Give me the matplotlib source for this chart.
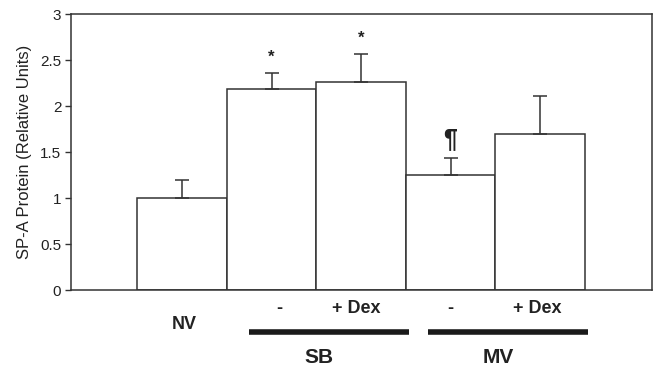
import numpy as np
import matplotlib.pyplot as plt

# bar values
groups = ['NV', 'SB', 'SB+Dex', 'MV', 'MV+Dex']
means = [1.0, 2.18, 2.265, 1.245, 1.70]
errs = [0.20, 0.18, 0.295, 0.185, 0.41]
marks = ['', '*', '*', '\u00b6', '']
sub_labels = ['NV', '-', '+ Dex', '-', '+ Dex']
ylabel = 'SP-A Protein (Relative Units)'
yticks = [0, 0.5, 1, 1.5, 2, 2.5, 3]
ytick_labels = ['0', '0.5', '1', '1.5', '2', '2.5', '3']

plt.rcParams['font.family'] = ['Liberation Sans', 'DejaVu Sans']

fig = plt.figure(figsize=(6.58, 3.71), dpi=100)
ax = fig.add_axes([71 / 658, 1 - 290 / 371, (652 - 71) / 658, (290 - 14) / 371])

x = np.arange(len(means))
edge = '#333333'
ax.bar(x, means, width=1.0, color='white', edgecolor=edge, linewidth=1.1, zorder=2)
ax.errorbar(x, means, yerr=[np.zeros(len(errs)), errs], fmt='none',
            ecolor=edge, elinewidth=1.1, capsize=5, capthick=1.1, zorder=3)

for xi, m, e, s in zip(x, means, errs, marks):
    if s == '*':
        ax.text(xi, m + e + 0.09, s, ha='center', va='bottom', fontsize=12,
                fontweight='bold', color='#222222')
    elif s:
        ax.text(xi, m + e + 0.08, s, ha='center', va='bottom', fontsize=18,
                fontweight='bold', color='#222222')

ax.set_xlim(-1.24, 5.25)
ax.set_ylim(0, 3)
ax.set_yticks(yticks)
ax.set_yticklabels(ytick_labels, fontsize=11, color='#222222')
ax.set_xticks([])
ax.tick_params(axis='y', direction='out', length=4, width=1, color=edge, pad=3)
ax.set_ylabel(ylabel, fontsize=12, color='#222222', labelpad=6)
for sp in ax.spines.values():
    sp.set_color(edge)
    sp.set_linewidth(1.1)

tr = ax.get_xaxis_transform()
# condition labels under the bars
ax.text(x[0] + 0.03, -0.125, sub_labels[0], transform=tr, ha='center', va='center',
        fontsize=13, fontweight='bold', color='#222222')
offs = [0, 0.09, -0.05, 0.0, -0.03]
for i in range(1, 5):
    ax.text(x[i] + offs[i], -0.068, sub_labels[i], transform=tr, ha='center', va='center',
            fontsize=13, fontweight='bold', color='#222222')

# group bars and names
for a, b, name in [(1, 2, 'SB'), (3, 4, 'MV')]:
    ax.plot([x[a] - 0.25, x[b] + 0.54], [-0.152, -0.152], transform=tr, color='#1a1a1a',
            linewidth=4, solid_capstyle='butt', clip_on=False)
    ax.text((x[a] + x[b]) / 2 + 0.03, -0.245, name, transform=tr, ha='center', va='center',
            fontsize=15, fontweight='bold', color='#222222')

fig.savefig('out.png', dpi=100)
